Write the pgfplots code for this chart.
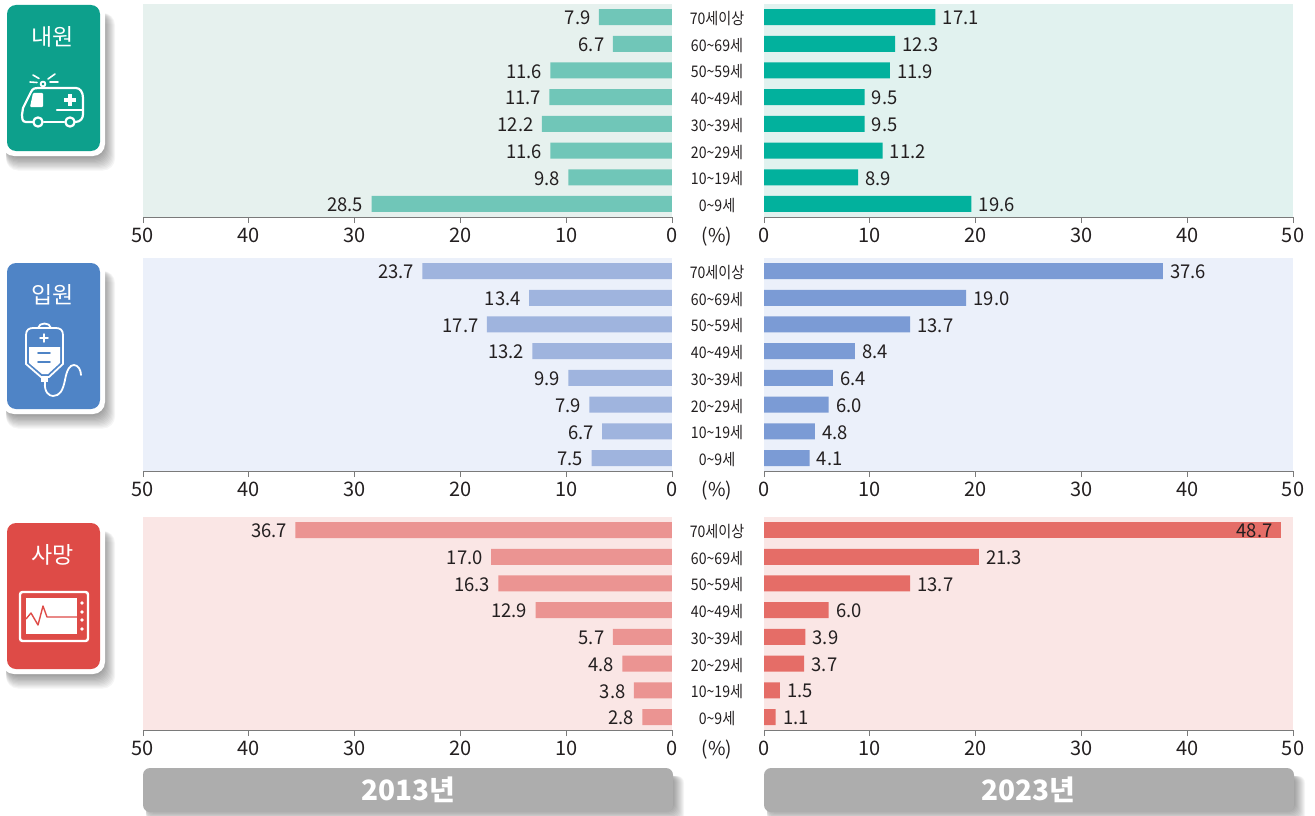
\documentclass[border=0pt]{standalone}
\usepackage{fontspec}
\setmainfont{Noto Sans CJK KR}
\usepackage{pgfplots}
\pgfplotsset{compat=1.18}
\definecolor{txt}{HTML}{231F20}
\definecolor{tickc}{HTML}{7A7A7A}
\definecolor{cardG}{HTML}{0DA08C}
\definecolor{cardB}{HTML}{4F84C6}
\definecolor{cardR}{HTML}{DE4B47}
\definecolor{bgGl}{HTML}{E6F1EE}
\definecolor{bgGr}{HTML}{E1F2EF}
\definecolor{bgB}{HTML}{EBF0FA}
\definecolor{bgR}{HTML}{FAE6E5}
\definecolor{barGl}{HTML}{70C6B8}
\definecolor{barGr}{HTML}{02B19D}
\definecolor{barBl}{HTML}{9FB4DE}
\definecolor{barBr}{HTML}{7B9BD5}
\definecolor{barRl}{HTML}{EB9492}
\definecolor{barRr}{HTML}{E56D67}
\pgfplotsset{
  panel/.style={
    scale only axis,width=529pt,height=213pt,anchor=south west,
    xmin=0,xmax=50,ymin=-0.487,ymax=7.49,
    xbar,bar shift=0pt,bar width=16pt,
    axis x line*=bottom,axis y line*=left,
    y axis line style={draw=none},x axis line style={draw=tickc,-,line width=0.8pt},
    xtick={0,10,20,30,40,50},
    tick align=outside,major tick length=6pt,
    x tick style={draw=tickc,line width=0.8pt},y tick style={draw=none},
    ytick={0,...,7},
    tick label style={text=txt,font=\fontsize{20}{20}\selectfont},
    /pgf/number format/assume math mode=true,
    xticklabel style={yshift=-1pt},
    clip=false,
    point meta=explicit symbolic,
    nodes near coords,
    nodes near coords style={text=txt,font=\fontsize{19}{19}\selectfont,inner sep=0pt,yshift=-1pt,xscale=0.97},
  },
  lpanel/.style={panel,x dir=reverse,yticklabels={},
    nodes near coords style={anchor=east,xshift=-8.5pt}},
  rpanel/.style={panel,
    yticklabels={0\textasciitilde 9세,10\textasciitilde 19세,20\textasciitilde 29세,30\textasciitilde 39세,40\textasciitilde 49세,50\textasciitilde 59세,60\textasciitilde 69세,70세이상},
    yticklabel style={anchor=center,xshift=-41pt,yshift=-1.5pt,xscale=0.88,font=\fontsize{16}{16}\selectfont},
    nodes near coords style={anchor=west,xshift=7.5pt}},
}
\newcommand{\softshadow}[5]{% x0 y0 x1 y1 radius
  \foreach \d in {0,1,...,10}{
    \fill[black,opacity=0.04,rounded corners=#5pt]
      ({#1+3},{-(#2+8)}) rectangle ({#3+1+\d},{-(#4+2+\d*1.25)});
  }
}
\newcommand{\card}[3]{% y0 y1 colour
  \softshadow{3}{#1}{104}{#2+5}{12}
  \fill[white,rounded corners=12pt] (2,{-(#1-5)}) rectangle (105,{-(#2+5)});
  \fill[#3,rounded corners=9pt] (7,{-#1}) rectangle (100,{-#2});
}
\begin{document}
\begin{tikzpicture}[x=1pt,y=1pt]
\path[use as bounding box] (0,0) rectangle (1315,-816);

% cards
\card{5}{151}{cardG}
\card{263}{409}{cardB}
\card{523}{669}{cardR}
\node[text=white,font=\fontsize{23}{23}\selectfont] at (53,-37) {내원};
\node[text=white,font=\fontsize{23}{23}\selectfont] at (53,-295) {입원};
\node[text=white,font=\fontsize{23}{23}\selectfont] at (53,-555) {사망};

% ambulance icon
\begin{scope}[y=-1pt,draw=white,line width=2.2pt,line cap=round,line join=round]
  \draw (33,122) -- (26,122) .. controls (22,122) and (22,118) .. (22,115) -- (23,108) -- (31,92) .. controls (33,88) and (35,88) .. (38,88)
        -- (76,88) .. controls (80,88) and (83,92) .. (83,98) -- (83,114) .. controls (83,118) and (81,122) .. (75,122);
  \fill[white,rounded corners=1pt] (30,107) -- (33,93) -- (43,93) -- (43,107) -- cycle;
  \fill[white] (68,94) rectangle (72,106);
  \fill[white] (64,98) rectangle (76,102);
  \draw (57,110) -- (83,110);
  \draw (38,122) circle (4.6);
  \draw (70,122) circle (4.6);
  \draw (44,122) -- (64,122);
  \draw[line width=1.8pt] (43,84) circle (2.4);
  \draw[line width=1.6pt] (30,82) -- (37,82.5);
  \draw[line width=1.6pt] (33,75) -- (39,78.5);
  \draw[line width=1.6pt] (48,79) -- (55,74);
  \draw[line width=1.6pt] (50,82) -- (58,82);
\end{scope}

% IV bag icon
\begin{scope}[y=-1pt,draw=white,line width=1.8pt,line cap=round,line join=round]
  \draw (26,345) -- (26,335) .. controls (26,330) and (29,328) .. (33,328) -- (56,328) .. controls (60,328) and (63,330) .. (63,335) -- (63,364) -- (49,377) -- (41,377) -- (26,364) -- cycle;
  \draw (38,328) .. controls (39,322) and (50,322) .. (51,328);
  \fill[white] (29,347) -- (60,347) -- (60,363) -- (48,374) -- (42,374) -- (29,363) -- cycle;
  \draw[line width=1.5pt] (40,338) -- (48,338);
  \draw[line width=1.5pt] (44,334) -- (44,342);
  \draw[cardB,line width=1.6pt] (38,353) -- (50,353);
  \draw[cardB,line width=1.6pt] (38,362) -- (50,362);
  \fill[white] (41,377) rectangle (48,382);
  \draw (45,382) .. controls (44,392) and (49,396) .. (53,396) .. controls (60,396) and (63,390) .. (65,380) .. controls (67,369) and (70,365) .. (74,365) .. controls (78,365) and (81,370) .. (81,375);
\end{scope}

% monitor icon
\begin{scope}[y=-1pt]
  \draw[white,line width=2.4pt,rounded corners=2.5pt] (20,592) rectangle (88,641);
  \fill[white] (26,598) rectangle (77,634);
  \foreach \yy in {603,612,620,629}{\fill[white] (82,\yy) circle (1.9);}
  \draw[cardR,line width=1.4pt,line join=round] (26,619) -- (31,613) -- (38,625) -- (43,606) -- (47,617) -- (77,617);
\end{scope}

% year banners
\softshadow{143}{768}{673}{808}{7}
\softshadow{764}{768}{1294}{808}{7}
\fill[black!32,rounded corners=7pt] (143,-768) rectangle (673,-812);
\fill[black!32,rounded corners=7pt] (764,-768) rectangle (1294,-812);
\node[text=white,font=\fontsize{28}{28}\selectfont\bfseries] at (408,-790) {2013년};
\node[text=white,font=\fontsize{28}{28}\selectfont\bfseries] at (1028,-790) {2023년};

% (%) labels
\node[text=txt,font=\fontsize{19}{19}\selectfont] at (717,-236.5) {(\%)};
\node[text=txt,font=\fontsize{19}{19}\selectfont] at (717,-490.5) {(\%)};
\node[text=txt,font=\fontsize{19}{19}\selectfont] at (717,-749.5) {(\%)};

% ---- 내원
\begin{axis}[lpanel,at={(143pt,-217pt)},axis background/.style={fill=bgGl}]
\addplot[fill=barGl,draw=none] coordinates {
 (28.4,0)[28.5] (9.8,1)[9.8] (11.5,2)[11.6] (12.3,3)[12.2] (11.6,4)[11.7] (11.5,5)[11.6] (5.6,6)[6.7] (6.9,7)[7.9]};
\end{axis}
\begin{axis}[rpanel,at={(764pt,-217pt)},axis background/.style={fill=bgGr}]
\addplot[fill=barGr,draw=none] coordinates {
 (19.6,0)[19.6] (8.9,1)[8.9] (11.2,2)[11.2] (9.5,3)[9.5] (9.5,4)[9.5] (11.9,5)[11.9] (12.4,6)[12.3] (16.2,7)[17.1]};
\end{axis}
% ---- 입원
\begin{axis}[lpanel,at={(143pt,-471pt)},axis background/.style={fill=bgB}]
\addplot[fill=barBl,draw=none] coordinates {
 (7.6,0)[7.5] (6.6,1)[6.7] (7.8,2)[7.9] (9.8,3)[9.9] (13.2,4)[13.2] (17.5,5)[17.7] (13.5,6)[13.4] (23.6,7)[23.7]};
\end{axis}
\begin{axis}[rpanel,at={(764pt,-471pt)},axis background/.style={fill=bgB}]
\addplot[fill=barBr,draw=none] coordinates {
 (4.3,0)[4.1] (4.8,1)[4.8] (6.1,2)[6.0] (6.5,3)[6.4] (8.6,4)[8.4] (13.8,5)[13.7] (19.1,6)[19.0] (37.7,7)[37.6]};
\end{axis}
% ---- 사망
\begin{axis}[lpanel,at={(143pt,-730pt)},axis background/.style={fill=bgR}]
\addplot[fill=barRl,draw=none] coordinates {
 (2.8,0)[2.8] (3.6,1)[3.8] (4.7,2)[4.8] (5.6,3)[5.7] (12.9,4)[12.9] (16.4,5)[16.3] (17.1,6)[17.0] (35.6,7)[36.7]};
\end{axis}
\begin{axis}[rpanel,at={(764pt,-730pt)},axis background/.style={fill=bgR}]
\addplot[fill=barRr,draw=none] coordinates {
 (1.1,0)[1.1] (1.5,1)[1.5] (3.8,2)[3.7] (3.9,3)[3.9] (6.1,4)[6.0] (13.8,5)[13.7] (20.3,6)[21.3]};
\addplot[fill=barRr,draw=none,nodes near coords style={anchor=east,xshift=-16.5pt}] coordinates {(48.9,7)[48.7]};
\end{axis}
\end{tikzpicture}
\end{document}
